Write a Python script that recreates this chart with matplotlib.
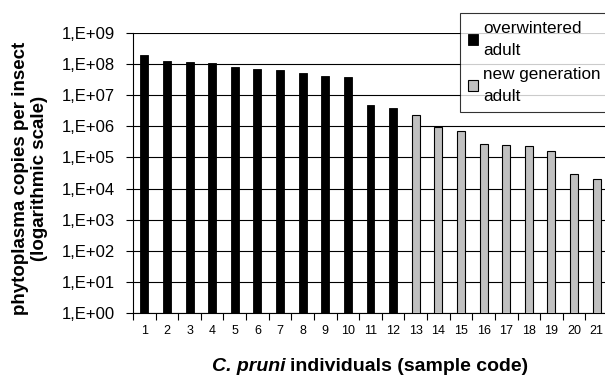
import numpy as np
import matplotlib
matplotlib.use("Agg")
from matplotlib import pyplot as plt
from matplotlib.ticker import FixedLocator, FuncFormatter, NullLocator

plt.rcParams['font.family'] = ['Liberation Sans', 'DejaVu Sans']

# sample codes and phytoplasma copies per insect
samples = [str(i) for i in range(1, 22)]
overwintered = [1.9e8, 1.3e8, 1.2e8, 1.1e8, 8.1e7, 7.1e7, 6.4e7, 5.3e7,
                4.3e7, 3.9e7, 4.7e6, 3.9e6]
new_generation = [2.3e6, 9.5e5, 6.9e5, 2.8e5, 2.6e5, 2.4e5, 1.6e5,
                  2.9e4, 2.1e4]
labels = ['overwintered\nadult', 'new generation\nadult']

fig = plt.figure(figsize=(6.05, 3.75), dpi=100)
W, H = 605, 375
ax = fig.add_axes([133 / W, 62 / H, 475 / W, 280 / H])

x_old = np.arange(len(overwintered))
x_new = np.arange(len(overwintered), len(samples))
b1 = ax.bar(x_old, overwintered, width=0.35, color='black',
            edgecolor='black', linewidth=0.6, zorder=3, label=labels[0])
b2 = ax.bar(x_new, new_generation, width=0.35, color='#c0c0c0',
            edgecolor='black', linewidth=0.8, zorder=3, label=labels[1])

ax.set_yscale('log')
ax.set_ylim(1, 1e9)
ax.set_xlim(-0.5, len(samples) - 0.5)

ax.yaxis.set_major_locator(FixedLocator([10.0 ** k for k in range(10)]))
ax.yaxis.set_minor_locator(NullLocator())
ax.yaxis.set_major_formatter(
    FuncFormatter(lambda v, p: "1,E+%02d" % int(round(np.log10(v)))))
ax.grid(axis='y', color='black', linewidth=0.8, zorder=0)

ax.set_xticks(np.arange(len(samples)))
ax.set_xticklabels(samples, fontsize=9)
ax.set_xticks(np.arange(-0.5, len(samples)), minor=True)
ax.tick_params(axis='x', which='major', length=0, pad=9)
ax.tick_params(axis='x', which='minor', length=5, width=0.8, direction='out')
ax.tick_params(axis='y', which='major', length=5, width=0.8,
               direction='out', labelsize=12, pad=8)

for side in ['top', 'right']:
    ax.spines[side].set_visible(False)
for side in ['left', 'bottom']:
    ax.spines[side].set_linewidth(0.8)

# y label
fig.text(30 / W, 1 - 178 / H,
         "phytoplasma copies per insect\n(logarithmic scale)",
         rotation=90, ha='center', va='center', multialignment='center',
         fontsize=13.5, fontweight='bold')

# x label: italic species name + bold rest
t1 = fig.text(0, 0, "C. pruni ", fontsize=14, fontweight='bold',
              style='italic', ha='left', va='baseline')
t2 = fig.text(0, 0, "individuals (sample code)", fontsize=14,
              fontweight='bold', ha='left', va='baseline')
fig.canvas.draw()
r = fig.canvas.get_renderer()
w1 = t1.get_window_extent(r).width
w2 = t2.get_window_extent(r).width
x0 = 370 - (w1 + w2) / 2
yb = 1 - 371 / H
t1.set_position((x0 / W, yb))
t2.set_position(((x0 + w1) / W, yb))

leg = fig.legend(handles=[b1, b2], labels=labels, loc='upper left',
                 bbox_to_anchor=(460 / W, 1 - 13 / H), fontsize=12.3,
                 frameon=True, fancybox=False, shadow=False,
                 handlelength=0.6, handleheight=0.6, handletextpad=0.3,
                 borderpad=0.45, labelspacing=0.55, borderaxespad=0)
leg.get_frame().set_edgecolor('black')
leg.get_frame().set_linewidth(0.8)
for t in leg.get_texts():
    t.set_linespacing(1.6)

fig.savefig('out.png', dpi=100)
